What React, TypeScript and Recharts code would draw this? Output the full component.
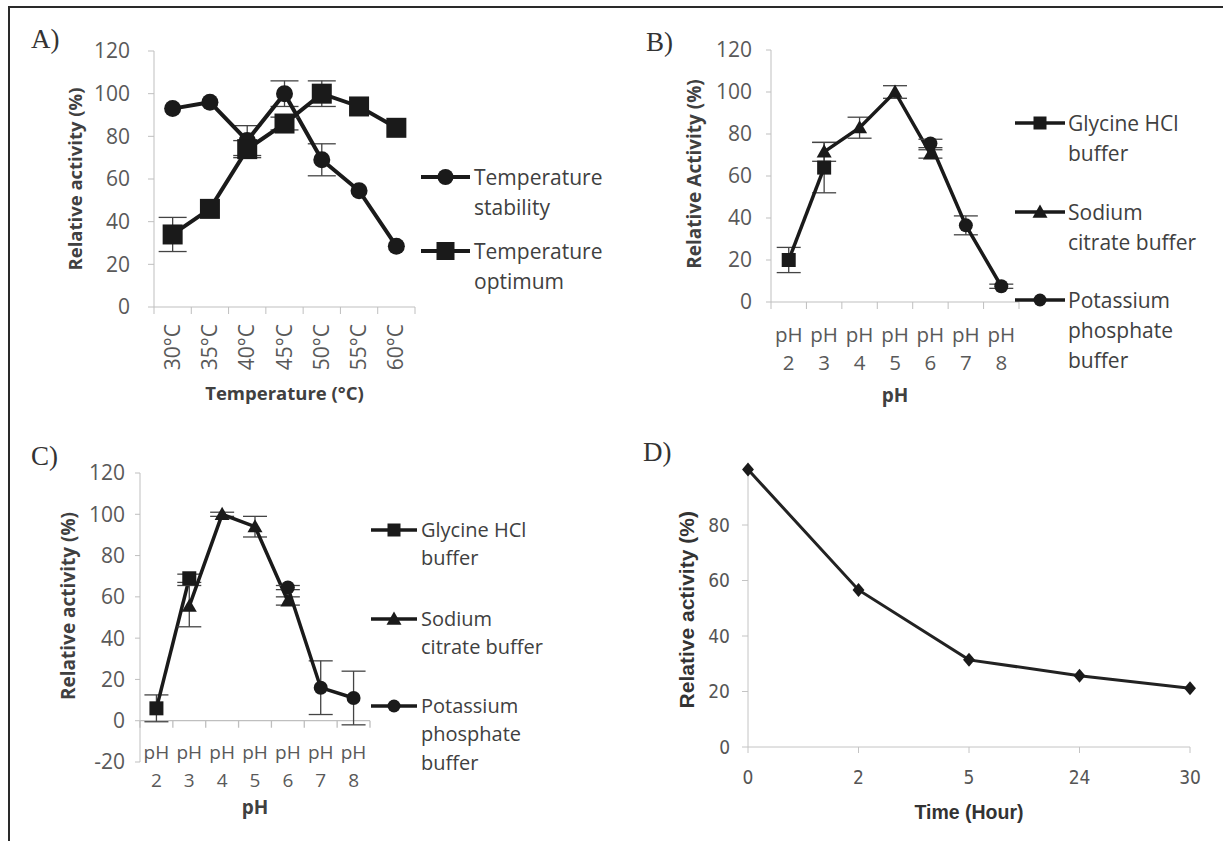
import React from 'react'
import { LineChart, Line, XAxis, YAxis, ErrorBar, ReferenceLine } from 'recharts'

const FONT = "'Open Sans', sans-serif"
const NARROW = "'Liberation Sans Narrow', 'DejaVu Sans Condensed', sans-serif"
const ARIAL = "'Liberation Sans', Arial, sans-serif"
const SERIF = "'Liberation Serif', 'Times New Roman', serif"
const INK = '#1a1a1a'
const AXIS = '#bfbfbf'
const TICK = '#595959'
const TEXT = '#404040'

// A) temperature
const tempLabels = ['30°C', '35°C', '40°C', '45°C', '50°C', '55°C', '60°C']
const tempStability = [93, 96, 78, 100, 69, 54.5, 28.5]
const tempStabilityErr = [null, null, 7, 6, 7.5, null, null]
const tempOptimum = [34, 46, 74, 86, 100, 94, 84]
const tempOptimumErr = [8, null, 4, 3, 6, null, null]

// B) and C) pH
const phLabels = ['2', '3', '4', '5', '6', '7', '8']
const bGlycine = [20, 64, null, null, null, null, null]
const bGlycineErr = [6, 12, null, null, null, null, null]
const bCitrate = [null, 71.5, 83, 100, 70.5, null, null]
const bCitrateErr = [null, 4.5, 5, 3, 2, null, null]
const bPhosphate = [null, null, null, null, 75.5, 36.5, 7.5]
const bPhosphateErr = [null, null, null, null, 2, 4.5, 1]

const cGlycine = [6, 69, null, null, null, null, null]
const cGlycineErr = [6.5, 2, null, null, null, null, null]
const cCitrate = [null, 55.5, 100, 94, 58, null, null]
const cCitrateErr = [null, 10, 1, 5, 2, null, null]
const cPhosphate = [null, null, null, null, 64.5, 16, 11]
const cPhosphateErr = [null, null, null, null, 1, 13, 13]

// D) storage time
const timeLabels = ['0', '2', '5', '24', '30']
const timeActivity = [100, 56.6, 31.4, 25.7, 21.2]

const slots = [1, 2, 3, 4, 5, 6, 7]
const bounds = [0.5, 1.5, 2.5, 3.5, 4.5, 5.5, 6.5, 7.5]

const rowsA = tempLabels.map((label, i) => ({
  x: i + 1,
  label,
  stability: tempStability[i],
  stabilityErr: tempStabilityErr[i],
  optimum: tempOptimum[i],
  optimumErr: tempOptimumErr[i],
}))

const phRows = (g, ge, c, ce, p, pe) =>
  phLabels.map((label, i) => ({
    x: i + 1,
    label,
    glycine: g[i],
    glycineErr: ge[i],
    citrate: c[i],
    citrateErr: ce[i],
    phosphate: p[i],
    phosphateErr: pe[i],
  }))

const rowsB = phRows(bGlycine, bGlycineErr, bCitrate, bCitrateErr, bPhosphate, bPhosphateErr)
const rowsC = phRows(cGlycine, cGlycineErr, cCitrate, cCitrateErr, cPhosphate, cPhosphateErr)
const rowsD = timeLabels.map((time, i) => ({ time, activity: timeActivity[i] }))

function shapeAt(shape: string, cx: number, cy: number, s: number) {
  if (shape === 'circle') return <circle cx={cx} cy={cy} r={s} fill={INK} />
  if (shape === 'square') return <rect x={cx - s} y={cy - s} width={2 * s} height={2 * s} fill={INK} />
  if (shape === 'triangle')
    return (
      <polygon
        points={`${cx},${cy - s} ${cx - s},${cy + s * 0.75} ${cx + s},${cy + s * 0.75}`}
        fill={INK}
      />
    )
  return <polygon points={`${cx},${cy - s} ${cx + s * 0.85},${cy} ${cx},${cy + s} ${cx - s * 0.85},${cy}`} fill={INK} />
}

const dot = (shape: string, s: number) => (p: any) => {
  if (p.cx == null || p.cy == null || p.value == null) return <g key={`e${p.index}`} />
  return <g key={`d${p.index}`}>{shapeAt(shape, p.cx, p.cy, s)}</g>
}

const TempTick = ({ x, y, payload }: any) => (
  <text
    x={x}
    y={y + 9}
    transform={`rotate(-90, ${x}, ${y + 9})`}
    textAnchor="end"
    dy={7}
    fill={TICK}
    fontSize={21}
    fontFamily={FONT}
  >
    {tempLabels[payload.value - 1]}
  </text>
)

const phTick = (d1: number, d2: number, fs: number) => ({ x, y, payload }: any) => (
  <text textAnchor="middle" fill={TICK} fontSize={fs} fontFamily={FONT}>
    <tspan x={x} y={y + d1 + fs * 0.36}>pH</tspan>
    <tspan x={x} y={y + d2 + fs * 0.36}>{phLabels[payload.value - 1]}</tspan>
  </text>
)

const yTitle = (value: string, offset: number, dy: number, fs: number, family = FONT, fill = TEXT) => ({
  value,
  angle: -90,
  position: 'insideLeft' as const,
  offset,
  dy,
  fill,
  fontSize: fs,
  fontWeight: 700,
  fontFamily: family,
  style: { textAnchor: 'middle' },
})

const xTitle = (value: string, offset: number, fs: number, family = FONT, fill = TEXT) => ({
  value,
  position: 'insideBottom' as const,
  offset,
  fill,
  fontSize: fs,
  fontWeight: 700,
  fontFamily: family,
})

type LegendItem = { shape: string; size: number; lines: string[]; y: number }

function LegendBlock({ x1, x2, textX, fs, lh, lw, items }: { x1: number; x2: number; textX: number; fs: number; lh: number; lw: number; items: LegendItem[] }) {
  return (
    <>
      {items.map((it, k) => (
        <React.Fragment key={k}>
          <svg style={{ position: 'absolute', left: x1, top: it.y - 15, overflow: 'visible' }} width={x2 - x1} height={30}>
            <line x1={0} x2={x2 - x1} y1={15} y2={15} stroke={INK} strokeWidth={lw} />
            {shapeAt(it.shape, (x2 - x1) / 2, 15, it.size)}
          </svg>
          <div
            style={{
              position: 'absolute',
              left: textX,
              top: it.y - lh / 2,
              lineHeight: `${lh}px`,
              fontSize: fs,
              fontFamily: FONT,
              color: TEXT,
              whiteSpace: 'pre',
            }}
          >
            {it.lines.join('\n')}
          </div>
        </React.Fragment>
      ))}
    </>
  )
}

const PanelLetter = ({ text, left, top }: { text: string; left: number; top: number }) => (
  <div style={{ position: 'absolute', left, top, fontFamily: SERIF, fontSize: 27, lineHeight: '27px', color: '#333' }}>{text}</div>
)

const yTick = (fs: number) => ({ fill: TICK, fontSize: fs, fontFamily: FONT })

function PanelA() {
  return (
    <div style={{ position: 'absolute', left: 0, top: 0, width: 620, height: 410 }}>
      <LineChart width={620} height={410} data={rowsA} margin={{ top: 51, right: 205, bottom: 0, left: 20 }}>
        <YAxis
          domain={[0, 120]}
          ticks={[0, 20, 40, 60, 80, 100, 120]}
          width={134}
          tickSize={6}
          tickMargin={18}
          stroke={AXIS}
          tick={yTick(21)}
          label={yTitle('Relative activity (%)', 55, 0, 18.5)}
        />
        <XAxis xAxisId="frame" type="number" dataKey="x" domain={[0.5, 7.5]} ticks={bounds} tickFormatter={() => ''} tickSize={7} height={8} stroke={AXIS} />
        <XAxis
          xAxisId="lab"
          type="number"
          dataKey="x"
          domain={[0.5, 7.5]}
          ticks={slots}
          axisLine={false}
          tickLine={false}
          tickSize={0}
          tickMargin={0}
          height={95}
          tick={TempTick}
          label={xTitle('Temperature (°C)', 10.5, 18.5)}
        />
        <Line xAxisId="lab" dataKey="stability" stroke={INK} strokeWidth={4} dot={dot('circle', 8.5)} isAnimationActive={false}>
          <ErrorBar dataKey="stabilityErr" width={14} stroke="#444" strokeWidth={1.3} />
        </Line>
        <Line xAxisId="lab" dataKey="optimum" stroke={INK} strokeWidth={4} dot={dot('square', 10)} isAnimationActive={false}>
          <ErrorBar dataKey="optimumErr" width={14} stroke="#444" strokeWidth={1.3} />
        </Line>
      </LineChart>
      <LegendBlock
        x1={421}
        x2={470}
        textX={474}
        fs={21}
        lh={30}
        lw={4}
        items={[
          { shape: 'circle', size: 8, lines: ['Temperature', 'stability'], y: 177 },
          { shape: 'square', size: 9, lines: ['Temperature', 'optimum'], y: 251 },
        ]}
      />
      <PanelLetter text="A)" left={31} top={26} />
    </div>
  )
}

function PhChart({ rows, width, height, margin, yWidth, yDomain, yTicks, yMargin, yLabel, labAxisTop, tick, titleOffset, zeroLine, frameAxis }: any) {
  return (
    <LineChart width={width} height={height} data={rows} margin={margin}>
      <YAxis
        domain={yDomain}
        ticks={yTicks}
        width={yWidth}
        tickSize={5}
        tickMargin={yMargin}
        stroke={AXIS}
        tick={yTick(21)}
        label={yLabel}
      />
      {frameAxis && (
        <XAxis xAxisId="frame" type="number" dataKey="x" domain={[0.5, 7.5]} ticks={bounds} tickFormatter={() => ''} tickSize={7} height={8} stroke={AXIS} />
      )}
      <XAxis
        xAxisId="lab"
        type="number"
        dataKey="x"
        domain={[0.5, 7.5]}
        ticks={slots}
        axisLine={false}
        tickLine={false}
        tickSize={0}
        tickMargin={0}
        height={labAxisTop}
        tick={tick}
        label={xTitle('pH', titleOffset, 19)}
      />
      {zeroLine && <ReferenceLine xAxisId="lab" y={0} stroke={AXIS} strokeWidth={1.3} />}
      {zeroLine &&
        bounds.map((b) => (
          <ReferenceLine key={b} xAxisId="lab" segment={[{ x: b, y: 0 }, { x: b, y: -3.4 }]} stroke={AXIS} strokeWidth={1.3} />
        ))}
      <Line xAxisId="lab" dataKey="glycine" stroke={INK} strokeWidth={3.5} dot={dot('square', 7)} isAnimationActive={false}>
        <ErrorBar dataKey="glycineErr" width={12} stroke="#444" strokeWidth={1.3} />
      </Line>
      <Line xAxisId="lab" dataKey="citrate" stroke={INK} strokeWidth={3.5} dot={dot('triangle', 7.5)} isAnimationActive={false}>
        <ErrorBar dataKey="citrateErr" width={12} stroke="#444" strokeWidth={1.3} />
      </Line>
      <Line xAxisId="lab" dataKey="phosphate" stroke={INK} strokeWidth={3.5} dot={dot('circle', 7)} isAnimationActive={false}>
        <ErrorBar dataKey="phosphateErr" width={12} stroke="#444" strokeWidth={1.3} />
      </Line>
    </LineChart>
  )
}

const phLegend = (ys: number[]): LegendItem[] => [
  { shape: 'square', size: 6.5, lines: ['Glycine HCl', 'buffer'], y: ys[0] },
  { shape: 'triangle', size: 7.5, lines: ['Sodium', 'citrate buffer'], y: ys[1] },
  { shape: 'circle', size: 6.5, lines: ['Potassium', 'phosphate', 'buffer'], y: ys[2] },
]

function PanelB() {
  return (
    <div style={{ position: 'absolute', left: 600, top: 0, width: 623, height: 410 }}>
      <PhChart
        rows={rowsB}
        width={623}
        height={410}
        margin={{ top: 50, right: 204, bottom: 0, left: 20 }}
        yWidth={151}
        yDomain={[0, 120]}
        yTicks={[0, 20, 40, 60, 80, 100, 120]}
        yMargin={14}
        yLabel={yTitle('Relative Activity  (%)', 74, -2, 19)}
        labAxisTop={100}
        tick={phTick(25, 53, 20.5)}
        titleOffset={8}
        frameAxis
      />
      <LegendBlock x1={415} x2={465} textX={468} fs={21} lh={30} lw={3.5} items={phLegend([123, 212, 300])} />
      <PanelLetter text="B)" left={46} top={29} />
    </div>
  )
}

function PanelC() {
  return (
    <div style={{ position: 'absolute', left: 0, top: 400, width: 620, height: 441 }}>
      <PhChart
        rows={rowsC}
        width={620}
        height={441}
        margin={{ top: 73, right: 250, bottom: 0, left: 20 }}
        yWidth={120}
        yDomain={[-20, 120]}
        yTicks={[-20, 0, 20, 40, 60, 80, 100, 120]}
        yMargin={10}
        yLabel={yTitle('Relative activity (%)', 48, -11.5, 19)}
        labAxisTop={79}
        tick={phTick(-10, 18, 19)}
        titleOffset={27}
        zeroLine
      />
      <LegendBlock x1={371} x2={417} textX={421} fs={20} lh={28.5} lw={3.5} items={phLegend([130, 219, 306])} />
      <PanelLetter text="C)" left={31} top={43} />
    </div>
  )
}

function PanelD() {
  return (
    <div style={{ position: 'absolute', left: 620, top: 400, width: 603, height: 441 }}>
      <LineChart width={603} height={441} data={rowsD} margin={{ top: 69.5, right: 33, bottom: 0, left: 20 }}>
        <YAxis
          domain={[0, 100]}
          ticks={[0, 20, 40, 60, 80]}
          width={108}
          tickSize={6}
          tickMargin={12}
          stroke="#c4c4c4"
          tick={{ fill: '#555', fontSize: 19, fontFamily: NARROW }}
          label={yTitle('Relative activity (%)', 47, 1.5, 21, ARIAL, '#333')}
        />
        <XAxis
          dataKey="time"
          type="category"
          scale="point"
          padding={{ left: 0, right: 0 }}
          tickSize={6}
          tickMargin={18}
          height={94}
          stroke="#c4c4c4"
          tick={{ fill: '#555', fontSize: 19, fontFamily: NARROW }}
          label={xTitle('Time (Hour)', 22, 19.5, ARIAL, '#333')}
        />
        <Line dataKey="activity" stroke="#222" strokeWidth={3} dot={dot('diamond', 7)} isAnimationActive={false} />
      </LineChart>
      <PanelLetter text="D)" left={23} top={39} />
    </div>
  )
}

export default function App() {
  return (
    <div style={{ position: 'relative', width: 1223, height: 841, background: '#fff', overflow: 'hidden' }}>
      <style>{'body{margin:0}'}</style>
      <div style={{ position: 'absolute', left: 8, top: 5.5, width: 1215, height: 2, background: '#2a2a2a' }} />
      <div style={{ position: 'absolute', left: 8, top: 5.5, width: 2, height: 836, background: '#2a2a2a' }} />
      <PanelA />
      <PanelB />
      <PanelC />
      <PanelD />
    </div>
  )
}
